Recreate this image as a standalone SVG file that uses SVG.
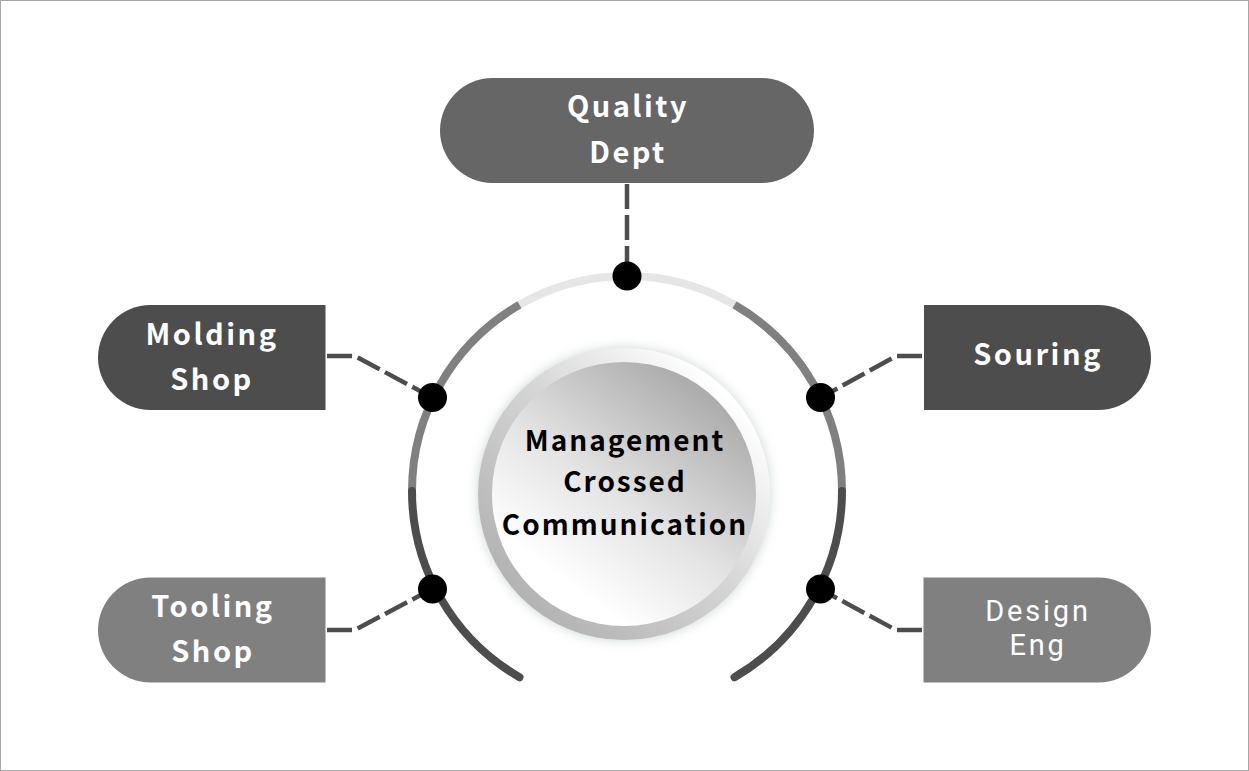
<svg xmlns="http://www.w3.org/2000/svg" width="1249" height="771" viewBox="0 0 1249 771">
  <style>
    .lbl { font-family: "Noto Sans CJK SC", "Noto Sans", sans-serif; font-weight: 700; font-size: 29px; letter-spacing: 2.5px; fill: #ffffff; text-anchor: middle; }
    .lbl2 { font-family: Roboto, "Liberation Sans", sans-serif; font-weight: 400; font-size: 29px; letter-spacing: 2.8px; fill: #ffffff; text-anchor: middle; }
    .ctr { font-family: "Noto Sans CJK SC", "Noto Sans", sans-serif; font-weight: 700; font-size: 28px; letter-spacing: 2px; fill: #000000; text-anchor: middle; }
    .conn { fill: none; stroke: #4d4d4d; stroke-width: 4.5; stroke-dasharray: 25 6; }
    .dot { fill: #000000; }
    .arc { fill: none; stroke-width: 8; }
  </style>
  <defs>
    <linearGradient id="ringGrad" x1="0.15" y1="0.85" x2="0.85" y2="0.15">
      <stop offset="0" stop-color="#b3b3b3"/>
      <stop offset="0.55" stop-color="#d6d6d6"/>
      <stop offset="1" stop-color="#ffffff"/>
    </linearGradient>
    <linearGradient id="discGrad" x1="0.85" y1="0.1" x2="0.3" y2="0.85">
      <stop offset="0" stop-color="#a8a8a8"/>
      <stop offset="0.6" stop-color="#e4e4e4"/>
      <stop offset="1" stop-color="#ffffff"/>
    </linearGradient>
    <filter id="shadow" x="-20%" y="-20%" width="140%" height="140%">
      <feDropShadow dx="0" dy="0" stdDeviation="6" flood-color="#b8c2c6" flood-opacity="0.7"/>
    </filter>
  </defs>

  <rect x="0.5" y="0.5" width="1248" height="770" fill="#ffffff" stroke="#a6a6a6" stroke-width="1"/>

  <g id="ring">
    <path class="arc" stroke="#e6e6e6" d="M519.5,304.8 A215,215 0 0 1 734.5,304.8"/>
    <path class="arc" stroke="#808080" d="M734.5,304.8 A215,215 0 0 1 842,491"/>
    <path class="arc" stroke="#4d4d4d" stroke-linecap="round" d="M842,491 A215,215 0 0 1 734.5,677.2"/>
    <path class="arc" stroke="#808080" d="M519.5,304.8 A215,215 0 0 0 412,491"/>
    <path class="arc" stroke="#4d4d4d" stroke-linecap="round" d="M412,491 A215,215 0 0 0 519.5,677.2"/>
  </g>

  <g id="connectors">
    <path class="conn" d="M627,184 V276"/>
    <path class="conn" d="M327,356 H355 L433,398"/>
    <path class="conn" d="M922,356 H896 L820,398"/>
    <path class="conn" d="M327,630 H355 L432,589"/>
    <path class="conn" d="M922,630 H896 L820,589"/>
  </g>

  <g id="dots">
    <circle class="dot" cx="627" cy="276" r="14.5"/>
    <circle class="dot" cx="432.5" cy="397.5" r="14.5"/>
    <circle class="dot" cx="820.5" cy="397.5" r="14.5"/>
    <circle class="dot" cx="432.5" cy="589" r="14.5"/>
    <circle class="dot" cx="820.5" cy="589" r="14.5"/>
  </g>

  <g id="center">
    <circle cx="624" cy="494" r="146" fill="url(#ringGrad)" filter="url(#shadow)"/>
    <circle cx="624" cy="494" r="132" fill="url(#discGrad)"/>
    <text class="ctr" x="625" y="451">Management</text>
    <text class="ctr" x="625" y="492">Crossed</text>
    <text class="ctr" x="625" y="535">Communication</text>
  </g>

  <g id="quality">
    <rect x="440" y="78" width="374" height="105" rx="52.5" fill="#666666"/>
    <text class="lbl" x="628" y="117">Quality</text>
    <text class="lbl" x="628" y="163">Dept</text>
  </g>

  <g id="molding">
    <path d="M150.5,305 H325.5 V410 H150.5 A52.5,52.5 0 0 1 150.5,305 Z" fill="#4d4d4d"/>
    <text class="lbl" x="212" y="345">Molding</text>
    <text class="lbl" x="212" y="390">Shop</text>
  </g>

  <g id="souring">
    <path d="M924,305 H1098.5 A52.5,52.5 0 0 1 1098.5,410 H924 Z" fill="#4d4d4d"/>
    <text class="lbl" x="1038" y="365">Souring</text>
  </g>

  <g id="tooling">
    <path d="M150.5,577.5 H325.5 V682.5 H150.5 A52.5,52.5 0 0 1 150.5,577.5 Z" fill="#808080"/>
    <text class="lbl" x="213" y="617">Tooling</text>
    <text class="lbl" x="213" y="662">Shop</text>
  </g>

  <g id="design">
    <path d="M923.5,577.5 H1098.5 A52.5,52.5 0 0 1 1098.5,682.5 H923.5 Z" fill="#808080"/>
    <text class="lbl2" x="1038" y="621">Design</text>
    <text class="lbl2" x="1038" y="655">Eng</text>
  </g>
</svg>
